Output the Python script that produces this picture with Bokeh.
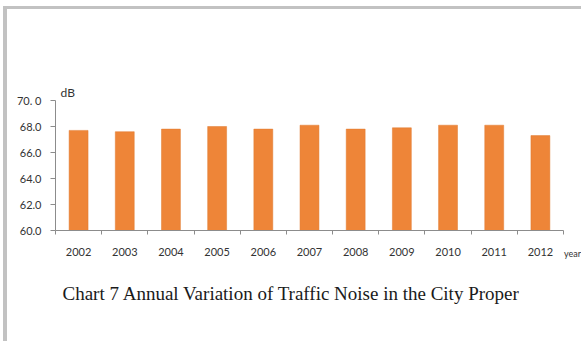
from bokeh.plotting import figure
from bokeh.models import FixedTicker, Range1d, Title
from bokeh.embed import file_html
from bokeh.resources import INLINE

# Annual traffic noise level in the city proper, dB
years = [2002, 2003, 2004, 2005, 2006, 2007, 2008, 2009, 2010, 2011, 2012]
noise_db = [67.7, 67.6, 67.8, 68.0, 67.8, 68.1, 67.8, 67.9, 68.1, 68.1, 67.3]

y_ticks = [60, 62, 64, 66, 68, 70]
y_tick_labels = ["60.0", "62.0", "64.0", "66.0", "68.0", "70. 0"]

title_text = "Chart 7 Annual Variation of Traffic Noise in the City Proper"

# the frame runs a little past the last category so the "year" unit sits beside it
x_start = years[0] - 0.5
x_axis_end = years[-1] + 0.5
x_view_end = x_axis_end + 0.195

p = figure(
    width=578, height=335,
    output_backend="svg", toolbar_location=None,
    x_range=Range1d(x_start, x_view_end),
    y_range=Range1d(60, 70),
    min_border_left=48, min_border_right=13,
    min_border_top=91, min_border_bottom=114,
)
p.styles = {
    "margin-left": "3px", "margin-top": "6px",
    "border-left": "4px solid #c2c2c2", "border-top": "3px solid #c2c2c2",
}
p.outline_line_color = None
p.grid.visible = False

p.vbar(x=years, top=noise_db, bottom=60, width=0.41,
       fill_color="#ee8538", line_color="#e07a30", line_width=0.5)

axis_color = "#8c8c8c"
label_font = "Lato"

# x axis: year labels at bar centres, tick marks between categories
p.xaxis.bounds = (x_start, x_axis_end)
p.xaxis.ticker = FixedTicker(ticks=years,
                             minor_ticks=[y - 0.5 for y in years] + [x_axis_end])
p.xaxis.major_label_overrides = {y: str(y) for y in years}
p.xaxis.major_tick_out = 0
p.xaxis.major_tick_in = 0
p.xaxis.minor_tick_out = 4
p.xaxis.minor_tick_in = 0
p.xaxis.minor_tick_line_color = axis_color
p.xaxis.axis_line_color = axis_color
p.xaxis.major_label_standoff = 13
p.xaxis.major_label_text_font = label_font
p.xaxis.major_label_text_font_size = "11px"
p.xaxis.major_label_text_color = "#333333"
p.xaxis.axis_label = "year"
p.xaxis.axis_label_align = "end"
p.xaxis.axis_label_standoff = -11
p.xaxis.axis_label_text_font = label_font
p.xaxis.axis_label_text_font_size = "9px"
p.xaxis.axis_label_text_font_style = "normal"
p.xaxis.axis_label_text_color = "#333333"

# y axis
p.yaxis.ticker = FixedTicker(ticks=y_ticks, minor_ticks=[])
p.yaxis.major_label_overrides = dict(zip(y_ticks, y_tick_labels))
p.yaxis.major_tick_out = 5
p.yaxis.major_tick_in = 0
p.yaxis.major_tick_line_color = axis_color
p.yaxis.axis_line_color = axis_color
p.yaxis.major_label_standoff = 9
p.yaxis.major_label_text_font = label_font
p.yaxis.major_label_text_font_size = "11px"
p.yaxis.major_label_text_color = "#333333"

# unit of the value axis, just above the frame
p.add_layout(Title(text="dB", align="left", offset=5, standoff=2,
                   text_font=label_font, text_font_size="12px",
                   text_font_style="normal", text_color="#333333"), "above")

# caption under the chart
p.add_layout(Title(text=title_text, align="left", offset=7, standoff=38,
                   text_font="Liberation Serif", text_font_size="19px",
                   text_font_style="normal", text_color="#1a1a1a"), "below")

open("out.html", "w").write(file_html(p, INLINE))
